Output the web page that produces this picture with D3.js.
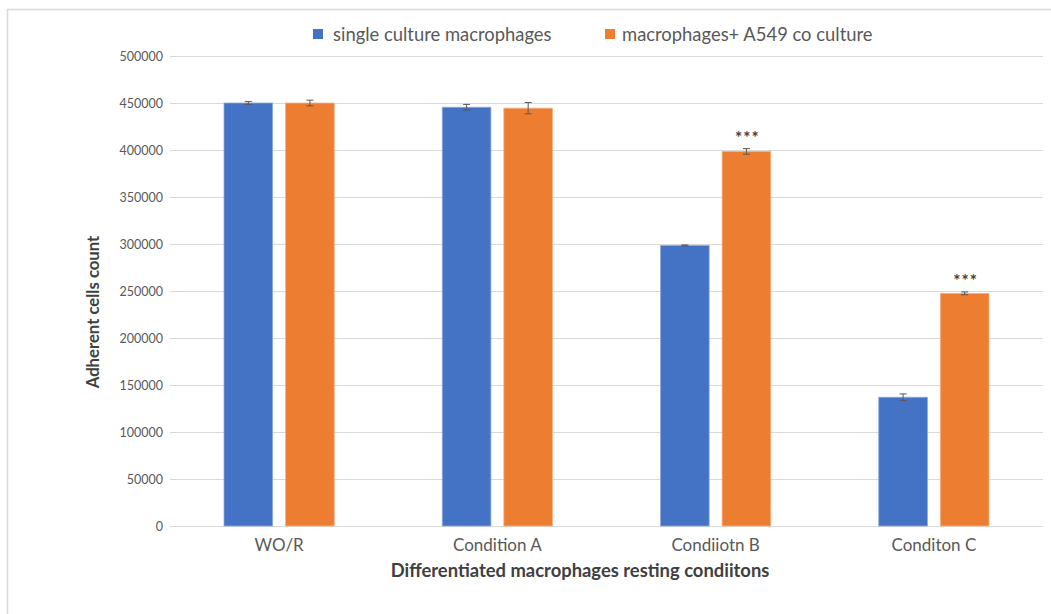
<!DOCTYPE html>
<html><head><meta charset="utf-8">
<script src="https://cdn.jsdelivr.net/npm/d3@7"></script>
<style>body{margin:0;background:#fff}svg{display:block;font-family:Lato,"Open Sans",sans-serif}</style>
</head><body>
<svg id="c" width="1051" height="614"></svg>
<script>
const categories = ["WO/R", "Condition A", "Condiiotn B", "Conditon C"];
const seriesNames = ["single culture macrophages", "macrophages+ A549 co culture"];
const singleValues = [450000, 445500, 298500, 137000];
const singleErrors = [1500, 3000, 500, 3500];
const coValues = [450000, 444500, 398500, 247500];
const coErrors = [3000, 6000, 3000, 1500];
const significance = ["", "", "***", "***"];
const yTicks = [0, 50000, 100000, 150000, 200000, 250000, 300000, 350000, 400000, 450000, 500000];
const colors = ["#4472C4", "#ED7D31"];

const svg = d3.select("#c");
// outer border
svg.append("rect").attr("x", 7.5).attr("y", 9.5).attr("width", 1060).attr("height", 620)
  .attr("fill", "none").attr("stroke", "#d9d9d9").attr("stroke-width", 1.5);

const plotLeft = 170, plotRight = 1043, plotTop = 56, plotBottom = 526;
const x = d3.scaleBand().domain(categories).range([plotLeft, plotRight]).paddingInner(0).paddingOuter(0);
const y = d3.scaleLinear().domain([0, 500000]).range([plotBottom, plotTop]);
const inner = d3.scaleBand().domain([0, 1]).range([54, x.bandwidth() - 54]).paddingInner(0.21);

// gridlines
svg.append("g").selectAll("line").data(yTicks).join("line")
  .attr("x1", plotLeft).attr("x2", plotRight).attr("y1", d => y(d) + 0.5).attr("y2", d => y(d) + 0.5)
  .attr("stroke", "#d9d9d9").attr("stroke-width", 1);

// y axis labels
const yAxis = d3.axisLeft(y).tickValues(yTicks).tickSize(0).tickPadding(7).tickFormat(d3.format("d"));
const gy = svg.append("g").attr("transform", `translate(${plotLeft},0)`).call(yAxis);
gy.select(".domain").remove();
gy.selectAll("text").attr("fill", "#595959").style("font-size", "12.5px").style("font-family", "Lato, 'Open Sans', sans-serif");

// x axis labels
const xAxis = d3.axisBottom(x).tickSize(0).tickPadding(13);
const gx = svg.append("g").attr("transform", `translate(0,${plotBottom})`).call(xAxis);
gx.select(".domain").remove();
gx.selectAll("text").attr("fill", "#595959").style("font-size", "17px").style("font-family", "Lato, 'Open Sans', sans-serif");

const series = [
  {vals: singleValues, errs: singleErrors},
  {vals: coValues, errs: coErrors}
];
series.forEach((s, si) => {
  const g = svg.append("g");
  const data = categories.map((c, i) => ({c, v: s.vals[i], e: s.errs[i], i}));
  g.selectAll("rect").data(data).join("rect")
    .attr("x", d => x(d.c) + inner(si))
    .attr("y", d => y(d.v))
    .attr("width", inner.bandwidth())
    .attr("height", d => y(0) - y(d.v))
    .attr("fill", colors[si])
    .attr("stroke", si === 0 ? "#8faadc" : "#f4b183").attr("stroke-width", 0.8);
  const eb = g.selectAll("g.eb").data(data).join("g").attr("class", "eb")
    .attr("transform", d => `translate(${x(d.c) + inner(si) + inner.bandwidth() / 2},0)`);
  eb.append("line").attr("x1", 0).attr("x2", 0).attr("y1", d => y(d.v + d.e)).attr("y2", d => y(d.v - d.e))
    .attr("stroke", "#595959").attr("stroke-width", 1);
  eb.append("line").attr("x1", -3.5).attr("x2", 3.5).attr("y1", d => y(d.v + d.e)).attr("y2", d => y(d.v + d.e))
    .attr("stroke", "#595959").attr("stroke-width", 1);
  eb.append("line").attr("x1", -3.5).attr("x2", 3.5).attr("y1", d => y(d.v - d.e)).attr("y2", d => y(d.v - d.e))
    .attr("stroke", "#595959").attr("stroke-width", 1);
  if (si === 1) {
    g.selectAll("text.sig").data(data.filter(d => significance[d.i])).join("text").attr("class", "sig")
      .attr("x", d => x(d.c) + inner(si) + inner.bandwidth() / 2 + 1)
      .attr("y", d => y(d.v + d.e) - 5)
      .attr("text-anchor", "middle").attr("fill", "#404040")
      .style("font-size", "17px").style("font-weight", "bold").style("letter-spacing", "1px")
      .text(d => significance[d.i]);
  }
});

// axis titles
svg.append("text").attr("transform", "translate(99,312) rotate(-90)")
  .attr("text-anchor", "middle").attr("fill", "#404040")
  .style("font-size", "16.7px").style("font-weight", "bold").text("Adherent cells count");
svg.append("text").attr("x", 580).attr("y", 577)
  .attr("text-anchor", "middle").attr("fill", "#404040")
  .style("font-size", "18.4px").style("font-weight", "bold").text("Differentiated macrophages resting condiitons");

// legend
const legX = [313, 605];
const legTextX = [333, 622];
seriesNames.forEach((n, i) => {
  svg.append("rect").attr("x", legX[i]).attr("y", 29).attr("width", 10).attr("height", 10).attr("fill", colors[i]);
  svg.append("text").attr("x", legTextX[i]).attr("y", 40.5).attr("fill", "#595959")
    .style("font-size", "18.4px").text(n);
});
</script>
</body></html>
